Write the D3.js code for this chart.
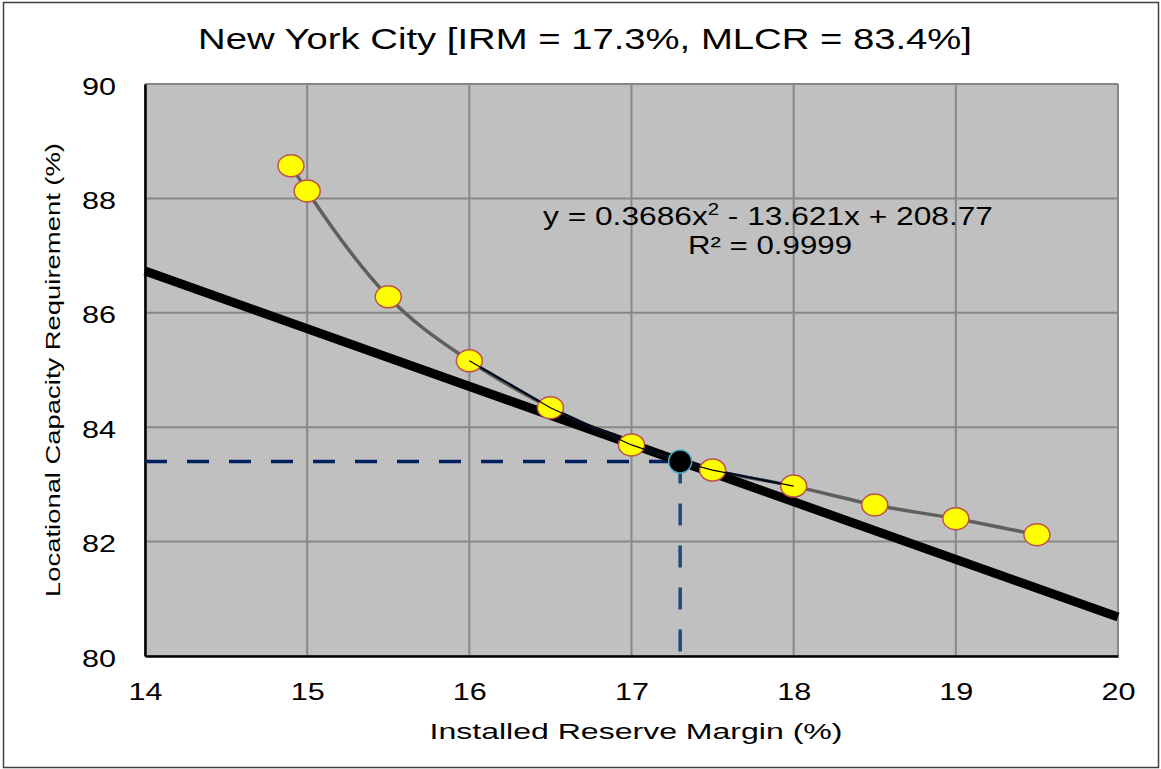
<!DOCTYPE html>
<html>
<head>
    <script src="https://d3js.org/d3.v7.min.js"></script>
    <style>
        body { margin: 0; background: #fff; }
        text { font-family: "Liberation Sans", Arial, sans-serif; fill: #000; }
    </style>
</head>
<body>
    <div id="svg"></div>
    <script>
        // study points
        var irm = [14.9, 15.0, 15.5, 16.0, 16.5, 17.0, 17.5, 18.0, 18.5, 19.0, 19.5];
        var lcr = [88.57, 88.13, 86.28, 85.16, 84.34, 83.69, 83.25, 82.97, 82.64, 82.40, 82.12];
        // selected point
        var selX = 17.3, selY = 83.4;
        // tangent line end points
        var tanX = [14, 20];
        var tanY = [86.73, 80.68];
        // local segment around the selected point
        var segX = [16.0, 16.5, 17.0, 17.3, 17.5, 18.0];
        var segY = [85.16, 84.34, 83.69, 83.4, 83.25, 82.97];
        var xTicks = [14, 15, 16, 17, 18, 19, 20];
        var yTicks = [80, 82, 84, 86, 88, 90];

        var W = 1161, H = 769;
        var margin = { top: 84, right: 43, bottom: 113, left: 145 },
            width = W - margin.left - margin.right,
            height = H - margin.top - margin.bottom;

        var root = d3.select("#svg").append("svg")
            .attr("width", W).attr("height", H);

        root.append("rect")
            .attr("x", 3.5).attr("y", 2.5)
            .attr("width", W - 6).attr("height", H - 4)
            .style("fill", "#fff").style("stroke", "#404040").style("stroke-width", 1.5);

        var svg = root.append("g")
            .attr("transform", "translate(" + margin.left + "," + margin.top + ")");

        var x = d3.scaleLinear().domain([14, 20]).range([0, width]);
        var y = d3.scaleLinear().domain([80, 90]).range([height, 0]);

        svg.append("rect")
            .attr("width", width).attr("height", height)
            .style("fill", "#c0c0c0");

        // grid
        svg.selectAll("vgrid").data(xTicks).enter().append("line")
            .attr("x1", function (d) { return x(d); }).attr("x2", function (d) { return x(d); })
            .attr("y1", 0).attr("y2", height)
            .style("stroke", "#878787").style("stroke-width", 2);
        svg.selectAll("hgrid").data(yTicks).enter().append("line")
            .attr("x1", 0).attr("x2", width)
            .attr("y1", function (d) { return y(d); }).attr("y2", function (d) { return y(d); })
            .style("stroke", "#878787").style("stroke-width", 2);

        // axes (left and bottom black)
        var xAxis = svg.append("g").attr("transform", "translate(0," + height + ")")
            .call(d3.axisBottom(x).tickValues(xTicks).tickFormat(d3.format("d")).tickSize(0).tickPadding(27));
        var yAxis = svg.append("g")
            .call(d3.axisLeft(y).tickValues(yTicks).tickFormat(d3.format("d")).tickSize(0).tickPadding(29));
        [xAxis, yAxis].forEach(function (a) {
            a.attr("font-size", null).attr("font-family", null);
            a.select(".domain").style("stroke", "#000").style("stroke-width", 2.5);
            a.selectAll("text").style("font-size", "24px").style("fill", "#000")
                .attr("textLength", 34).attr("lengthAdjust", "spacingAndGlyphs");
        });
        yAxis.selectAll("text").attr("dy", "0.42em");

        // dashed guides
        svg.append("line")
            .attr("x1", x(14)).attr("x2", x(selX))
            .attr("y1", y(selY)).attr("y2", y(selY))
            .style("stroke", "#002060").style("stroke-width", 3.5)
            .style("stroke-dasharray", "22,20");
        svg.append("line")
            .attr("x1", x(selX)).attr("x2", x(selX))
            .attr("y1", y(selY)).attr("y2", y(80))
            .style("stroke", "#1f497d").style("stroke-width", 3.5)
            .style("stroke-dasharray", "22,20");

        var line = d3.line()
            .x(function (d) { return x(d[0]); })
            .y(function (d) { return y(d[1]); });

        var pts = irm.map(function (v, i) { return [v, lcr[i]]; });
        var seg = segX.map(function (v, i) { return [v, segY[i]]; });
        var tan = tanX.map(function (v, i) { return [v, tanY[i]]; });

        // fitted curve
        svg.append("path")
            .attr("d", line.curve(d3.curveMonotoneX)(pts))
            .style("fill", "none").style("stroke", "#5f5f5f").style("stroke-width", 3.5);

        // tangent
        svg.append("path")
            .attr("d", line.curve(d3.curveLinear)(tan))
            .style("fill", "none").style("stroke", "#000").style("stroke-width", 9);

        // local segment
        svg.append("path")
            .attr("d", line.curve(d3.curveLinear)(seg))
            .style("fill", "none").style("stroke", "#0d1f45").style("stroke-width", 2.5);

        // markers
        svg.selectAll("pt").data(pts).enter().append("ellipse")
            .attr("cx", function (d) { return x(d[0]); })
            .attr("cy", function (d) { return y(d[1]); })
            .attr("rx", 13).attr("ry", 11)
            .style("fill", "#ffff00").style("stroke", "#c0504d").style("stroke-width", 1.5);

        svg.append("path")
            .attr("d", line.curve(d3.curveLinear)(seg))
            .style("fill", "none").style("stroke", "#000").style("stroke-width", 1.2);

        svg.append("circle")
            .attr("cx", x(selX)).attr("cy", y(selY)).attr("r", 11.5)
            .style("fill", "#000").style("stroke", "#4bacc6").style("stroke-width", 1.5);

        // equation
        root.append("text").attr("x", 768).attr("y", 225)
            .attr("text-anchor", "middle").style("font-size", "25px")
            .attr("textLength", 450).attr("lengthAdjust", "spacingAndGlyphs")
            .html("y = 0.3686x<tspan dy='-10' font-size='16px'>2</tspan><tspan dy='10'> - 13.621x + 208.77</tspan>");
        root.append("text").attr("x", 770).attr("y", 254)
            .attr("text-anchor", "middle").style("font-size", "25px")
            .attr("textLength", 164).attr("lengthAdjust", "spacingAndGlyphs")
            .text("R² = 0.9999");

        // titles
        root.append("text").attr("x", 585).attr("y", 49)
            .attr("text-anchor", "middle").style("font-size", "29px")
            .attr("textLength", 774).attr("lengthAdjust", "spacingAndGlyphs")
            .text("New York City [IRM = 17.3%, MLCR = 83.4%]");
        root.append("text").attr("x", 636).attr("y", 739)
            .attr("text-anchor", "middle").style("font-size", "22px")
            .attr("textLength", 413).attr("lengthAdjust", "spacingAndGlyphs")
            .text("Installed Reserve Margin (%)");
        root.append("text")
            .attr("transform", "translate(60,370) rotate(-90)")
            .attr("text-anchor", "middle").style("font-size", "21px")
            .attr("textLength", 454).attr("lengthAdjust", "spacingAndGlyphs")
            .text("Locational Capacity Requirement (%)");
    </script>
</body>
</html>
